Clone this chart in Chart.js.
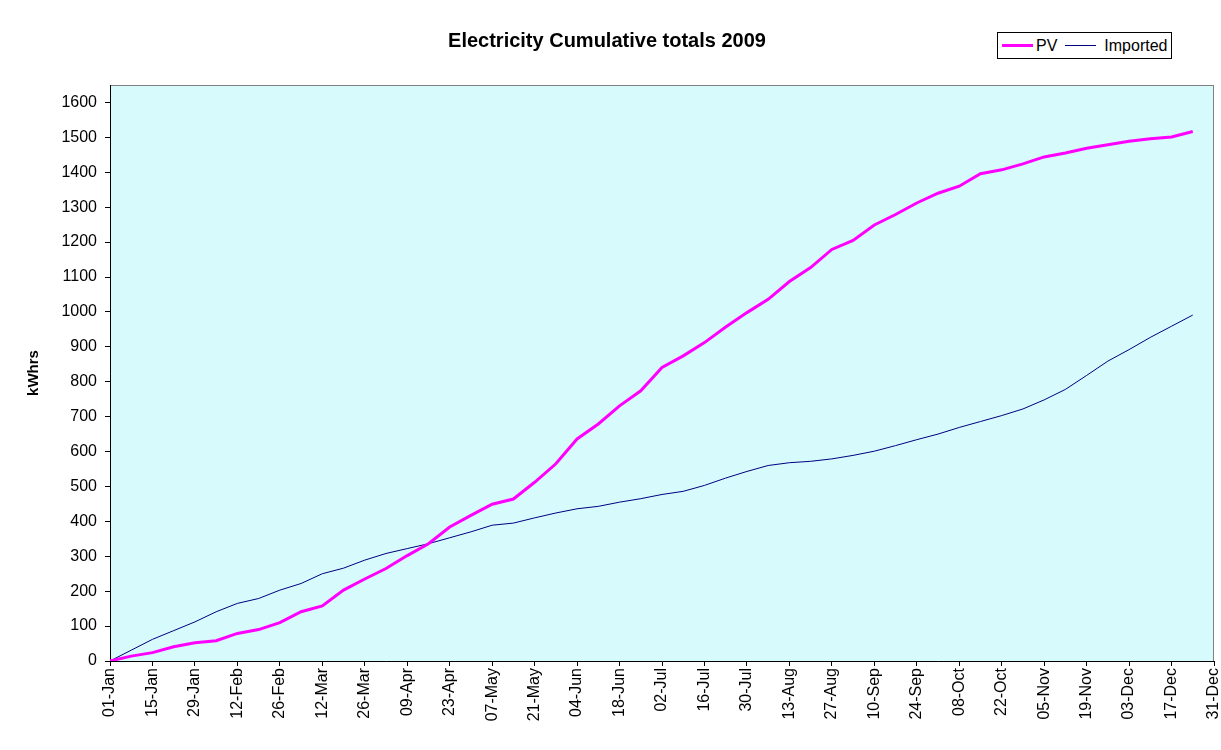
<!DOCTYPE html>
<html>
<head>
<meta charset="utf-8">
<script src="https://cdn.jsdelivr.net/npm/chart.js@4.4.1/dist/chart.umd.min.js"></script>
<style>
  html, body { margin: 0; padding: 0; background: #fff; }
  #wrap { position: relative; width: 1221px; height: 750px; }
  #legend {
    position: absolute; left: 997px; top: 32px; width: 173px; height: 25px;
    border: 1px solid #000; background: #fff;
    font: 16px "Liberation Sans", Arial, sans-serif; color: #000;
    display: flex; align-items: center; box-sizing: content-box;
  }
  #legend .ln { display: inline-block; width: 31px; margin-left: 4px; margin-right: 3px; }
</style>
</head>
<body>
<div id="wrap">
  <canvas id="chart" width="1221" height="750"></canvas>
  <div id="legend">
    <span class="ln" style="height:3px;background:#ff00ff"></span><span>PV</span>
    <span class="ln" style="height:1px;background:#000080;margin-left:8px;margin-right:8px"></span><span>Imported</span>
  </div>
</div>
<script>
// Day of year (0 = 01-Jan) of each weekly reading
const days = [0, 7, 14, 21, 28, 35, 42, 49, 56, 63, 70, 77, 84, 91, 98, 105, 112, 119, 126,
  133, 140, 147, 154, 161, 168, 175, 182, 189, 196, 203, 210, 217, 224, 231, 238, 245, 252,
  259, 266, 273, 280, 287, 294, 301, 308, 315, 322, 329, 336, 343, 350, 357];

// Cumulative kWh generated by the PV panels
const pv = [0, 14, 24, 41, 52, 58, 79, 90, 110, 141, 158, 203, 235, 265, 302, 336, 384, 417,
  449, 464, 512, 565, 636, 679, 731, 774, 841, 874, 912, 957, 998, 1036, 1087, 1127, 1179,
  1205, 1249, 1279, 1312, 1340, 1360, 1396, 1407, 1424, 1444, 1455, 1469, 1479, 1489, 1496,
  1501, 1517];

// Cumulative kWh imported from the grid
const imported = [0, 31, 62, 87, 112, 141, 165, 179, 203, 222, 250, 266, 289, 308, 322, 336,
  353, 370, 389, 395, 410, 424, 436, 443, 455, 465, 477, 486, 503, 524, 543, 560, 568, 572,
  579, 589, 601, 617, 634, 650, 669, 686, 703, 722, 748, 778, 818, 859, 892, 927, 959, 991];

// x axis tick labels, one every 14 days
const xTickLabels = ['01-Jan', '15-Jan', '29-Jan', '12-Feb', '26-Feb', '12-Mar', '26-Mar',
  '09-Apr', '23-Apr', '07-May', '21-May', '04-Jun', '18-Jun', '02-Jul', '16-Jul', '30-Jul',
  '13-Aug', '27-Aug', '10-Sep', '24-Sep', '08-Oct', '22-Oct', '05-Nov', '19-Nov', '03-Dec',
  '17-Dec', '31-Dec'];

// y axis tick values
const yTicks = [0, 100, 200, 300, 400, 500, 600, 700, 800, 900, 1000, 1100, 1200, 1300,
  1400, 1500, 1600];

Chart.defaults.font.family = '"Liberation Sans", Arial, sans-serif';
Chart.defaults.color = '#000';

// Light cyan plot area with grey frame (like the old Excel chart)
const plotArea = {
  id: 'plotArea',
  beforeDraw(chart) {
    const { ctx, chartArea: a } = chart;
    ctx.save();
    ctx.fillStyle = '#d7fafc';
    ctx.fillRect(a.left, a.top, a.right - a.left, a.bottom - a.top);
    ctx.strokeStyle = '#808080';
    ctx.lineWidth = 1;
    ctx.strokeRect(a.left + 0.5, a.top + 0.5, a.right - a.left - 1, a.bottom - a.top);
    ctx.restore();
  }
};

const ctx = document.getElementById('chart').getContext('2d');
new Chart(ctx, {
  type: 'line',
  data: {
    datasets: [
      {
        label: 'PV',
        data: days.map((d, i) => ({ x: d, y: pv[i] })),
        borderColor: '#ff00ff',
        borderWidth: 3,
        pointRadius: 0,
        tension: 0
      },
      {
        label: 'Imported',
        data: days.map((d, i) => ({ x: d, y: imported[i] })),
        borderColor: '#000080',
        borderWidth: 1,
        pointRadius: 0,
        tension: 0
      }
    ]
  },
  options: {
    responsive: false,
    animation: false,
    layout: { padding: { left: 0, right: 7, top: 0, bottom: 0 } },
    plugins: {
      legend: { display: false },
      tooltip: { enabled: false },
      title: {
        display: true,
        text: 'Electricity Cumulative totals 2009',
        font: { size: 20, weight: 'bold' },
        color: '#000',
        padding: { top: 29, bottom: 32 }
      }
    },
    scales: {
      x: {
        type: 'linear',
        min: 0,
        max: 364,
        border: { color: '#000', width: 1 },
        grid: { drawOnChartArea: false, drawTicks: true, tickLength: 5, color: '#000' },
        ticks: {
          stepSize: 14,
          autoSkip: false,
          minRotation: 90,
          maxRotation: 90,
          padding: 2,
          font: { size: 16 },
          callback: function(value) {
            return xTickLabels[Math.round(value / 14)];
          }
        },
        afterFit: function(scale) {
          scale.height = 89;
          scale.paddingLeft = 0;
          scale.paddingRight = 0;
        }
      },
      y: {
        min: 0,
        max: 1650,
        border: { color: '#000', width: 1 },
        grid: { drawOnChartArea: false, drawTicks: true, tickLength: 5, color: '#000' },
        ticks: {
          padding: 8,
          font: { size: 16 },
          callback: function(value) { return String(value); }
        },
        afterBuildTicks: function(scale) {
          scale.ticks = yTicks.map(v => ({ value: v }));
        },
        title: {
          display: true,
          text: 'kWhrs',
          font: { size: 15, weight: 'bold' },
          padding: { top: 25, bottom: 0 }
        },
        afterFit: function(scale) {
          scale.width = 110;
          scale.paddingTop = 0;
          scale.paddingBottom = 0;
        }
      }
    }
  },
  plugins: [plotArea]
});
</script>
</body>
</html>
